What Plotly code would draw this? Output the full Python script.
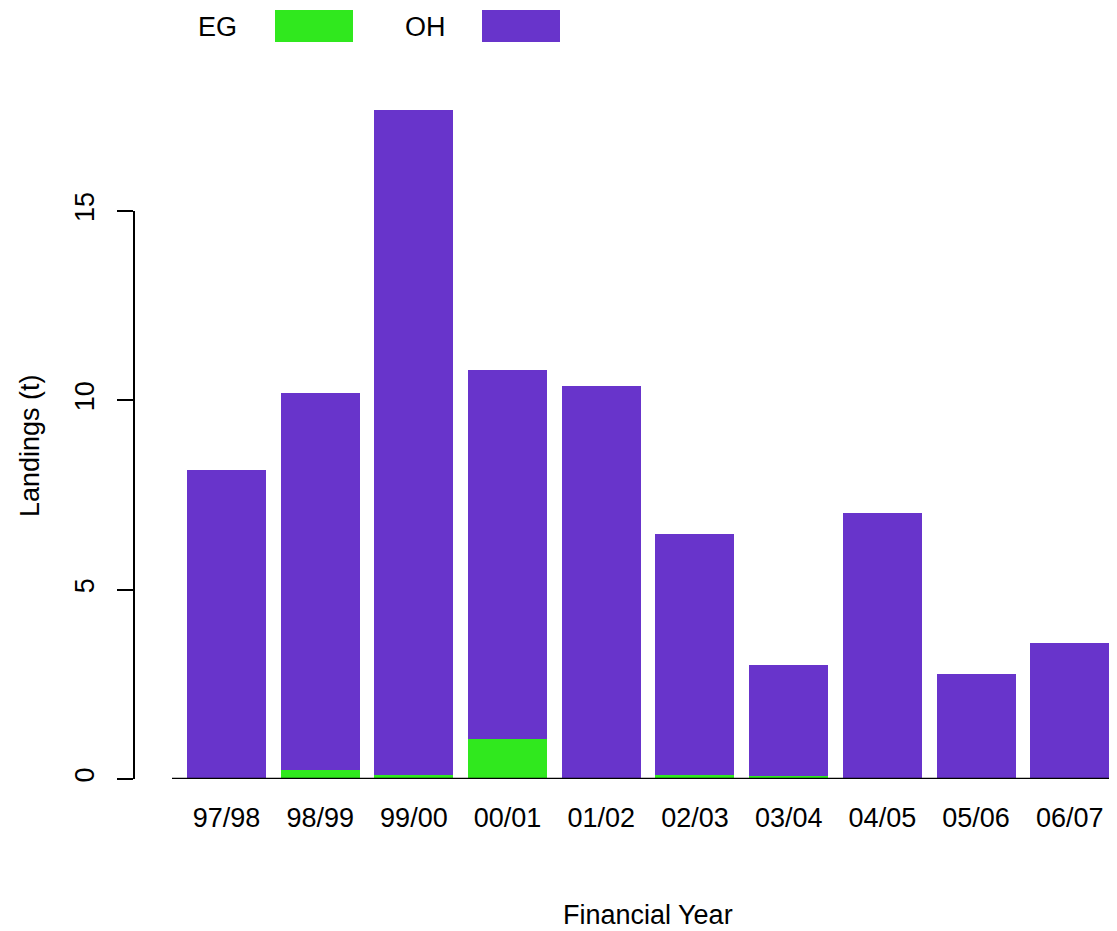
import plotly.graph_objects as go

years = ["97/98", "98/99", "99/00", "00/01", "01/02", "02/03", "03/04", "04/05", "05/06", "06/07"]
eg = [0.0, 0.24, 0.11, 1.05, 0.02, 0.10, 0.08, 0.0, 0.0, 0.02]
oh = [8.16, 9.95, 17.56, 9.75, 10.36, 6.37, 2.93, 7.02, 2.77, 3.57]
y_ticks = [0, 5, 10, 15]

GREEN = "#30E81E"
PURPLE = "#6834CB"
FONT = "Liberation Sans, Arial, sans-serif"
FS = 27

OFF = 8  # page body margin
W, H = 1117 - OFF, 931 - OFF
L, T = 134 - OFF, 97 - OFF
BOT = 779 - OFF
R = 0
B = H - BOT
PW, PH = W - L - R, BOT - T


def px(x):
    return (x - OFF - L) / PW


def py(y):
    return (BOT - (y - OFF)) / PH


fig = go.Figure()
fig.add_trace(go.Bar(x=years, y=eg, marker=dict(color=GREEN, line=dict(width=0)), name="EG", showlegend=False))
fig.add_trace(go.Bar(x=years, y=oh, marker=dict(color=PURPLE, line=dict(width=0)), name="OH", showlegend=False))

fig.update_layout(
    width=W, height=H,
    margin=dict(l=L, r=R, t=T, b=B, pad=0),
    barmode="stack", bargap=0.157,
    plot_bgcolor="white", paper_bgcolor="white",
    font=dict(family=FONT, size=FS, color="black"),
    xaxis=dict(range=[-0.987, 9.504], showline=False, showgrid=False, zeroline=False,
               ticks="", ticklabelstandoff=20, tickfont=dict(size=FS)),
    yaxis=dict(range=[0, PH / 37.87], showline=False, showgrid=False, zeroline=False,
               tickvals=y_ticks, ticks="outside", ticklen=16, tickwidth=2, tickcolor="black",
               tickangle=-90, ticklabelstandoff=12, tickfont=dict(size=FS)),
    showlegend=False,
)

# axis lines
fig.add_shape(type="line", xref="paper", yref="y", x0=0, x1=0, y0=0, y1=15,
              line=dict(color="black", width=2))
fig.add_shape(type="line", xref="paper", yref="y", x0=px(172), x1=1, y0=0, y1=0,
              line=dict(color="black", width=2.5))

# titles
fig.add_annotation(text="Landings (t)", xref="paper", yref="paper", x=px(30), y=py(446),
                   textangle=-90, showarrow=False, font=dict(size=FS), xanchor="center", yanchor="middle")
fig.add_annotation(text="Financial Year", xref="paper", yref="paper", x=px(648), y=py(915),
                   showarrow=False, font=dict(size=FS), xanchor="center", yanchor="middle")

# legend
fig.add_annotation(text="EG", xref="paper", yref="paper", x=px(217), y=py(27),
                   showarrow=False, font=dict(size=FS), xanchor="center", yanchor="middle")
fig.add_shape(type="rect", xref="paper", yref="paper", x0=px(275), x1=px(353), y0=py(42), y1=py(10),
              fillcolor=GREEN, line=dict(width=0))
fig.add_annotation(text="OH", xref="paper", yref="paper", x=px(425), y=py(27),
                   showarrow=False, font=dict(size=FS), xanchor="center", yanchor="middle")
fig.add_shape(type="rect", xref="paper", yref="paper", x0=px(482), x1=px(560), y0=py(42), y1=py(10),
              fillcolor=PURPLE, line=dict(width=0))

fig.write_html("out.html")
